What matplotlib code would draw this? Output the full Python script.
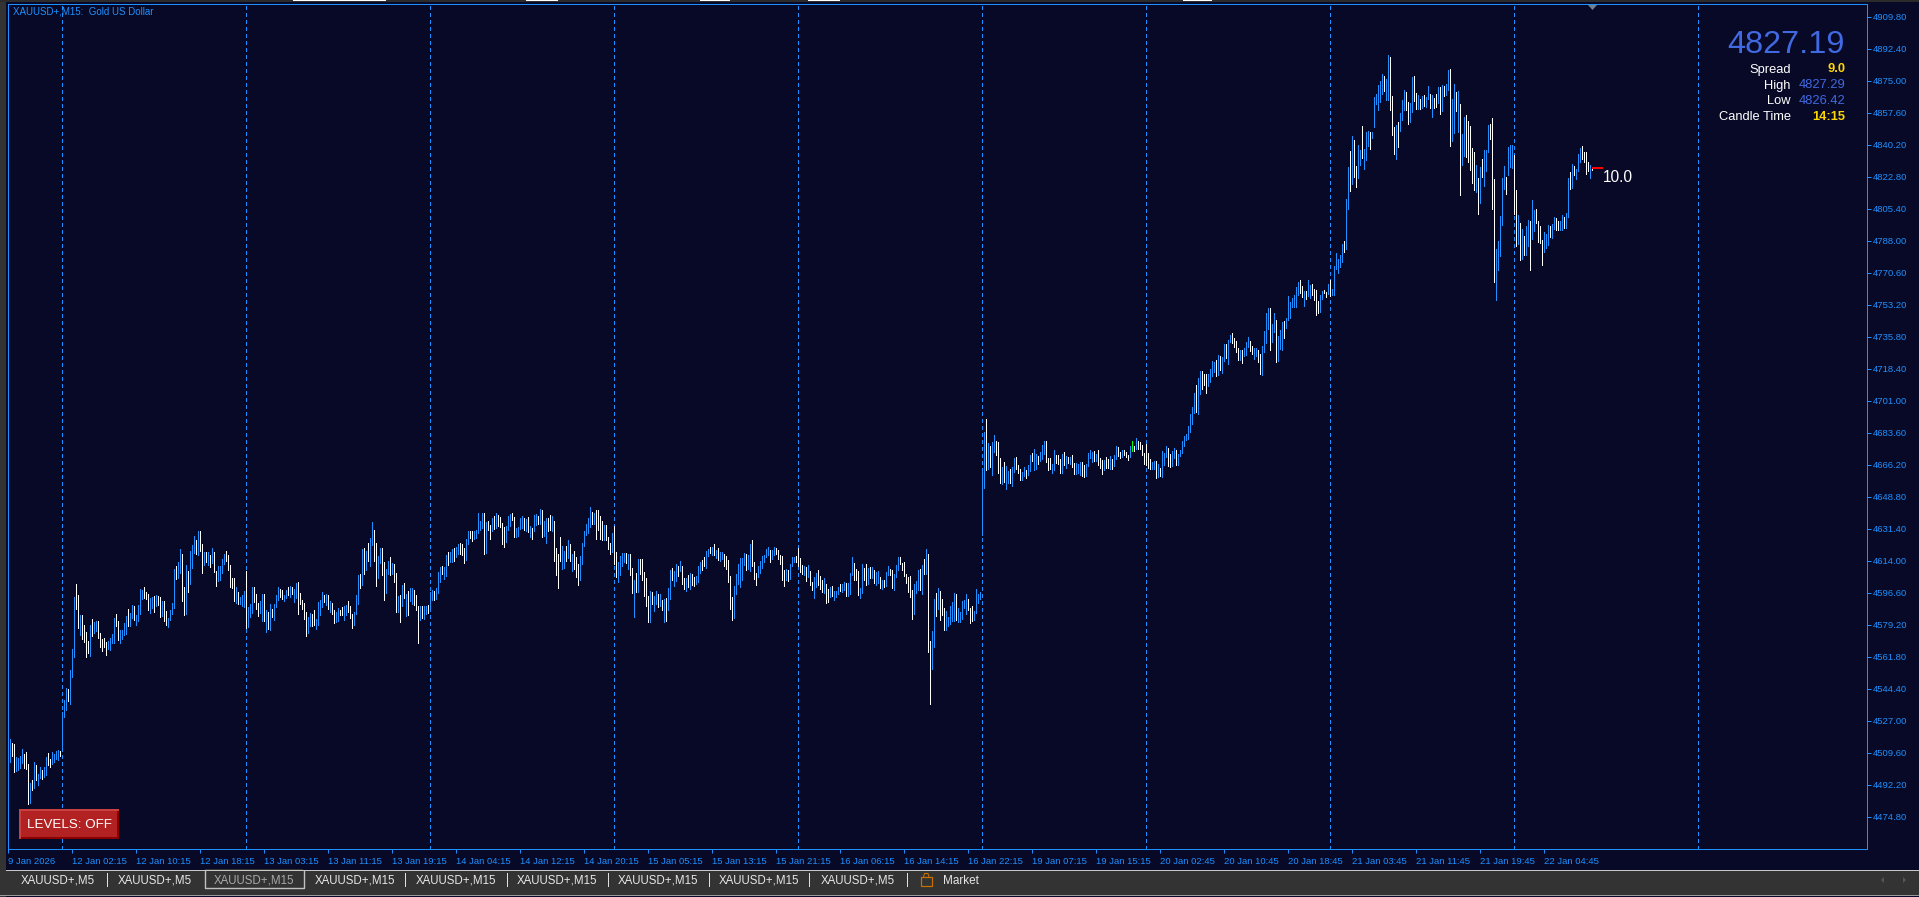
#!/usr/bin/env python3
"""XAUUSD+ M15 chart, MetaTrader look"""

import numpy as np
import matplotlib
matplotlib.use("Agg")
import matplotlib.pyplot as plt
from matplotlib.patches import Rectangle, Polygon

W, H = 1919, 897
NAVY = "#070926"
BLUE = "#1e90ff"
GREY = "#333333"
ROYAL = "#4169e1"
GOLD = "#ffd700"

plt.rcParams["font.family"] = ["Liberation Sans", "DejaVu Sans"]

# one entry per M15 bar
bar_highs = [
    # 9 Jan - 12 Jan
    4517.0,4514.9,4514.3,4507.3,4506.7,4507.8,4511.6,4508.9,4510.0,4503.4,
    4493.1,4494.7,4504.5,4502.9,4498.0,4501.8,4500.2,4501.8,4507.3,4509.4,
    4506.2,4510.0,4508.9,4510.5,4511.1,4510.5,4531.7,4538.2,4544.8,4544.2,
    4554.6,4566.0,4594.3,4601.3,4595.3,4584.5,4584.5,4579.0,4575.2,4570.3,
    4579.0,4582.3,4580.7,4581.2,4581.2,4574.7,4571.4,4572.0,4569.8,4570.3,
    4572.0,4574.1,4582.8,4585.0,4581.2,4576.3,4576.3,4580.1,4583.9,4587.7,
    4585.6,4589.9,4589.4,4584.5,4589.9,4598.6,4598.1,4599.7,4597.0,4595.9,
    4593.7,4594.3,4594.8,4595.3,4594.8,4594.3,4592.1,4592.1,4586.6,4582.8,
    4587.2,4591.0,4609.5,4611.1,4613.3,4620.4,4617.6,4599.7,4611.7,4608.4,
    4619.3,4622.5,4627.4,4625.2,4630.1,4630.1,4623.1,4618.7,4618.7,4618.7,
    4617.1,4620.9,4618.7,4608.4,4611.1,4611.1,4614.9,4617.6,4619.3,4617.1,
    4611.7,4604.6,4604.6,4599.7,4597.0,4594.3,4595.3,4597.5,4608.4,4588.8,
    4590.4,4599.7,4599.7,4595.9,4591.0,4592.1,4595.9,4595.9,4587.2,4586.1,
    4590.4,4587.7,4590.4,4595.3,4599.7,4598.6,4598.1,4595.3,4598.1,4599.7,
    4600.2,4599.7,4598.6,4601.9,4602.4,4596.4,4592.6,4591.0,4586.1,4583.4,
    4585.6,4585.0,4587.2,4582.3,4591.5,4592.6,4597.0,4595.3,4595.9,4595.3,
    4592.1,4591.0,4587.2,4586.1,4588.3,4587.2,4588.8,4589.4,4589.9,4592.1,
    4589.4,4585.0,4586.1,4595.3,4606.2,4606.8,4620.4,4620.9,4619.3,4623.6,
    4626.3,4635.0,4630.7,4623.6,4616.6,4620.9,4620.9,4613.3,4609.5,4613.8,
    4616.0,4612.7,4612.2,4607.3,4594.8,
    # 13 Jan - 14 Jan
    4595.3,4600.7,4601.8,4595.8,4597.5,4599.1,4599.1,4598.0,4595.3,4589.3,
    4589.3,4589.3,4589.3,4589.3,4589.9,4596.9,4598.0,4597.5,4599.1,4607.8,
    4610.5,4611.1,4610.5,4617.1,4618.7,4618.7,4620.3,4620.9,4621.4,4623.0,
    4623.6,4623.0,4620.9,4625.8,4630.1,4630.1,4630.1,4630.1,4630.6,4639.9,
    4635.5,4639.9,4639.9,4635.0,4635.5,4633.4,4637.2,4638.3,4639.9,4638.8,
    4637.7,4634.5,4632.3,4632.8,4638.3,4639.3,4639.9,4637.7,4631.7,4632.3,
    4637.2,4638.3,4637.2,4636.6,4637.7,4632.8,4631.7,4638.8,4639.3,4638.3,
    4642.1,4641.5,4635.5,4637.2,4637.2,4638.8,4638.3,4635.5,4620.9,4617.6,
    4626.8,4621.9,4619.2,4621.9,4625.2,4623.0,4617.6,4619.2,4616.0,4612.2,
    4616.5,4623.6,4630.1,4633.9,4637.2,4643.2,4640.4,4639.9,4641.5,4641.5,
    4638.3,4635.5,4633.4,4633.4,4626.8,4623.6,4629.0,4632.8,4618.7,4613.2,
    4616.5,4618.1,4618.1,4618.1,4617.6,4617.6,4610.0,4603.5,4607.3,4614.9,
    4614.9,4614.9,4607.8,4604.5,4594.8,4597.5,4596.9,4594.8,4597.5,4595.8,
    # 14 Jan - 16 Jan
    4595.8,4592.6,4593.1,4593.7,4599.1,4608.9,4610.0,4608.4,4612.2,4611.1,
    4613.8,4611.1,4604.5,4604.5,4606.2,4607.3,4606.7,4605.1,4605.6,4611.1,
    4613.2,4614.3,4616.0,4619.2,4620.3,4621.4,4621.4,4623.0,4619.8,4620.9,
    4618.7,4618.7,4617.6,4616.5,4614.3,4605.6,4594.2,4600.2,4606.7,4612.2,
    4615.4,4615.4,4618.1,4617.6,4617.1,4623.0,4625.2,4613.2,4607.3,4611.1,
    4613.8,4616.5,4617.1,4620.3,4621.4,4619.8,4619.8,4621.4,4620.9,4619.8,
    4617.1,4616.5,4608.9,4609.4,4608.9,4612.2,4616.0,4616.0,4616.5,4620.9,
    4615.4,4611.6,4611.1,4610.5,4611.6,4608.4,4602.4,4605.1,4607.3,4608.9,
    4605.6,4603.5,4604.5,4601.3,4598.6,4599.7,4600.2,4597.5,4597.5,4599.7,
    4601.3,4601.3,4602.4,4601.8,4601.8,4607.3,4616.0,4612.7,4609.4,4608.4,
    4599.1,4612.2,4610.0,4612.2,4610.0,4610.5,4610.5,4608.9,4607.8,4608.4,
    4605.1,4603.5,4603.5,4607.8,4611.1,4609.4,4608.9,4606.7,4611.6,4616.0,
    4616.0,4612.7,4613.2,4606.7,4605.1,4605.6,4598.0,4601.3,4602.9,4608.9,
    # 16 Jan - 20 Jan
    4609.5,4611.7,4614.9,4620.4,4617.7,4570.4,4575.8,4593.2,4596.5,4599.2,
    4597.5,4593.2,4588.3,4586.7,4583.4,4589.4,4591.6,4596.5,4595.9,4588.3,
    4586.1,4592.1,4592.6,4595.9,4593.2,4588.3,4589.4,4586.7,4598.6,4595.9,
    4597.0,4662.8,4684.0,4691.1,4678.0,4676.4,4678.6,4682.4,4679.1,4678.6,
    4669.9,4665.0,4667.7,4665.5,4662.8,4663.9,4665.0,4669.9,4670.4,4666.1,
    4663.9,4662.2,4665.0,4663.3,4666.1,4671.5,4672.6,4674.8,4672.0,4670.9,
    4673.1,4676.9,4679.1,4679.1,4669.9,4669.9,4666.6,4674.2,4671.5,4671.5,
    4669.3,4672.0,4673.1,4670.9,4670.4,4670.4,4671.5,4667.1,4667.1,4666.6,
    4667.7,4667.7,4666.1,4666.6,4672.6,4674.2,4673.1,4673.7,4672.0,4674.2,
    4669.9,4668.8,4668.8,4670.4,4669.3,4670.9,4669.3,4671.5,4676.4,4675.8,
    4673.1,4674.2,4674.2,4673.1,4671.5,4676.4,4679.1,4676.4,4680.7,4679.1,
    4678.6,4676.9,4672.6,4677.5,4672.6,4669.3,4667.7,4668.2,4668.2,4666.6,
    4664.4,4673.7,4672.6,4676.4,4675.3,4672.0,4673.7,4675.3,4674.2,4672.0,
    4674.2,4679.1,4681.8,4682.9,4687.3,4693.8,4697.6,4705.0,4709.6,4713.4,
    # 20 Jan
    4717.1,4717.1,4715.5,4715.5,4715.5,4718.2,4722.6,4722.0,4723.1,4725.8,
    4725.3,4724.7,4731.8,4731.8,4734.0,4736.7,4737.8,4735.1,4733.4,4729.6,
    4728.5,4728.5,4729.6,4732.9,4735.6,4733.4,4730.7,4729.6,4729.6,4728.5,
    4726.4,4730.7,4738.9,4748.7,4751.4,4751.4,4742.7,4748.7,4744.9,4736.2,
    4739.4,4743.8,4744.3,4745.9,4757.9,4754.6,4756.8,4758.5,4762.8,4765.5,
    4766.6,4763.3,4760.6,4760.6,4766.6,4763.9,4764.4,4761.7,4761.2,4755.2,
    4758.5,4760.6,4761.2,4760.1,4764.4,
    # 20 Jan - 22 Jan
    4766.6,4761.7,4774.2,4781.3,4778.0,4780.2,4786.2,4787.8,4810.6,4828.0,
    4836.7,4844.9,4842.7,4828.6,4840.0,4837.3,4850.3,4837.8,4847.1,4847.6,
    4847.1,4847.1,4866.1,4867.7,4872.6,4874.8,4878.6,4877.5,4875.9,4888.9,
    4887.9,4866.6,4849.8,4850.9,4852.5,4857.4,4864.5,4869.9,4868.8,4863.4,
    4862.8,4877.0,4877.5,4868.3,4867.2,4865.0,4866.6,4867.2,4866.1,4872.1,
    4867.7,4867.2,4865.6,4867.7,4871.5,4871.5,4872.6,4872.1,4873.2,4880.8,
    4881.3,4865.0,4873.2,4868.8,4869.4,4862.3,4846.0,4855.2,4856.3,4853.1,
    4850.3,4838.4,4836.2,4829.1,4822.1,4828.0,4832.4,4837.3,4837.3,4850.9,
    4851.4,4854.7,4821.5,4783.5,4787.8,4801.4,4822.1,4828.6,4822.6,4838.9,
    4840.0,4840.0,4834.6,4815.5,4801.9,4797.6,4794.3,4790.5,4796.0,4799.2,
    4798.7,4810.1,4804.7,4805.2,4798.7,4796.0,4788.3,4792.7,4791.6,4796.5,
    4796.0,4797.1,4800.9,4800.3,4798.7,4798.7,4801.9,4800.9,4803.0,4822.1,
    4825.3,4829.7,4828.6,4827.0,4835.1,4838.4,4839.5,4836.2,4836.2,4830.8,
    4829.1,4827.5,
]

bar_lows = [
    4504.5,4507.8,4499.1,4499.6,4500.2,4501.3,4504.0,4501.3,4500.7,4481.7,
    4482.2,4489.3,4490.4,4494.7,4492.0,4495.8,4495.3,4496.4,4497.5,4502.9,
    4501.8,4503.4,4504.5,4506.2,4505.6,4507.8,4510.5,4529.0,4532.8,4537.7,
    4536.1,4550.8,4561.6,4587.7,4577.4,4573.6,4571.4,4569.8,4561.6,4563.8,
    4562.2,4573.1,4574.7,4575.8,4572.0,4567.1,4564.9,4567.1,4562.7,4566.0,
    4565.4,4569.2,4569.2,4578.5,4570.9,4569.2,4571.4,4573.6,4574.1,4578.5,
    4578.5,4582.8,4581.7,4579.0,4581.2,4585.0,4593.2,4593.7,4593.2,4587.2,
    4585.6,4588.3,4586.1,4589.4,4589.9,4583.4,4583.9,4581.2,4579.0,4577.9,
    4581.7,4585.0,4588.3,4604.0,4604.6,4607.3,4592.1,4584.5,4585.0,4597.0,
    4601.3,4610.0,4618.2,4617.6,4617.1,4619.3,4607.3,4611.7,4613.3,4611.7,
    4610.6,4612.7,4607.8,4600.2,4603.0,4603.5,4607.3,4612.2,4613.8,4608.9,
    4599.7,4599.1,4592.1,4591.0,4590.4,4590.4,4589.4,4588.8,4577.4,4577.9,
    4583.4,4585.6,4591.5,4587.7,4583.9,4585.6,4581.2,4581.2,4575.2,4576.9,
    4576.3,4583.4,4581.7,4588.8,4592.6,4594.3,4593.2,4592.1,4593.7,4595.3,
    4594.3,4595.9,4591.5,4593.7,4585.0,4590.4,4587.7,4582.3,4573.1,4574.7,
    4578.5,4578.5,4579.0,4576.9,4579.0,4584.5,4588.8,4591.5,4589.9,4587.7,
    4586.1,4585.0,4580.1,4580.7,4581.2,4584.5,4584.5,4581.7,4584.5,4586.1,
    4582.8,4577.4,4579.0,4585.0,4590.4,4599.1,4600.8,4606.8,4608.9,4613.8,
    4611.1,4622.5,4613.8,4600.2,4604.6,4612.7,4606.2,4592.6,4596.4,4606.8,
    4606.2,4606.8,4602.4,4586.1,4586.1,
    4580.6,4589.3,4593.7,4583.9,4584.4,4592.0,4590.4,4589.9,4587.1,4569.2,
    4581.7,4582.8,4582.3,4585.0,4585.5,4587.7,4592.6,4592.6,4593.1,4596.4,
    4602.4,4606.7,4604.0,4605.6,4611.6,4613.2,4613.2,4613.8,4616.0,4617.6,
    4617.6,4617.1,4612.7,4614.3,4623.0,4626.3,4624.7,4625.8,4626.3,4629.0,
    4630.6,4631.7,4617.6,4618.1,4630.6,4625.8,4630.1,4631.2,4631.7,4632.8,
    4632.3,4623.0,4621.4,4624.1,4630.6,4632.8,4636.1,4626.8,4626.8,4627.4,
    4631.2,4631.7,4630.6,4630.1,4629.6,4626.8,4625.8,4630.1,4633.4,4633.9,
    4633.9,4626.8,4627.4,4623.6,4630.1,4630.6,4630.1,4613.8,4606.2,4599.1,
    4613.8,4609.4,4610.0,4613.8,4615.4,4613.8,4608.4,4609.4,4605.1,4600.7,
    4603.5,4612.2,4621.9,4627.9,4629.0,4632.3,4633.9,4633.9,4625.8,4630.6,
    4625.8,4625.2,4625.2,4625.2,4620.3,4617.6,4618.7,4612.2,4605.1,4602.4,
    4606.2,4611.1,4613.2,4612.7,4609.4,4606.2,4596.4,4583.3,4596.9,4596.9,
    4606.7,4603.5,4594.8,4589.3,4580.6,4580.6,4590.4,4586.6,4590.4,4588.8,
    4589.3,4587.1,4580.6,4581.2,4587.1,4593.1,4603.5,4600.2,4602.9,4605.6,
    4608.4,4601.3,4598.6,4597.5,4599.7,4598.6,4600.7,4600.2,4601.3,4602.4,
    4607.3,4608.9,4611.1,4610.0,4616.5,4618.1,4617.1,4617.1,4615.4,4614.3,
    4613.8,4614.9,4611.1,4609.4,4602.4,4587.7,4581.7,4582.8,4595.8,4601.3,
    4599.7,4603.5,4611.6,4608.9,4609.4,4608.4,4611.1,4604.0,4600.7,4605.1,
    4607.3,4610.0,4613.2,4616.0,4617.1,4613.2,4614.9,4617.1,4617.6,4614.9,
    4612.2,4603.5,4600.2,4603.5,4602.9,4604.0,4611.1,4613.2,4613.2,4611.1,
    4607.8,4606.7,4606.2,4602.9,4605.1,4600.7,4598.0,4593.7,4599.7,4600.7,
    4598.6,4596.9,4596.4,4591.0,4591.5,4594.2,4594.8,4592.6,4594.2,4595.8,
    4597.5,4596.9,4598.0,4594.8,4594.8,4595.8,4606.2,4603.5,4603.5,4595.3,
    4593.7,4596.4,4603.5,4600.7,4601.3,4604.5,4604.5,4601.8,4600.7,4601.8,
    4599.1,4598.6,4599.7,4600.2,4606.2,4606.2,4599.1,4598.0,4605.1,4608.9,
    4612.2,4608.9,4605.6,4601.8,4596.9,4594.2,4582.3,4585.0,4596.4,4598.0,
    4598.1,4595.9,4606.8,4606.8,4564.4,4536.1,4555.1,4567.1,4583.9,4587.8,
    4581.8,4584.5,4576.3,4576.3,4578.5,4579.6,4581.2,4581.2,4581.8,4580.7,
    4580.7,4582.3,4588.3,4585.0,4587.2,4580.1,4581.2,4581.8,4585.6,4591.0,
    4593.2,4628.0,4653.5,4663.3,4663.9,4665.0,4660.6,4673.1,4671.5,4661.7,
    4656.3,4655.7,4656.8,4653.0,4656.3,4656.3,4654.6,4662.2,4663.9,4661.7,
    4657.9,4657.9,4660.1,4659.0,4660.6,4662.8,4668.2,4663.3,4663.9,4666.6,
    4668.2,4669.3,4672.0,4667.7,4663.3,4663.9,4661.7,4663.3,4667.1,4666.6,
    4661.7,4661.7,4666.1,4664.4,4667.1,4666.6,4665.0,4661.2,4661.2,4661.7,
    4660.6,4660.1,4659.5,4660.1,4665.5,4669.9,4667.7,4668.2,4668.2,4666.1,
    4664.4,4661.2,4663.3,4664.4,4664.4,4663.9,4663.9,4665.5,4669.3,4670.9,
    4669.9,4670.4,4671.5,4670.4,4668.8,4670.4,4673.7,4673.7,4674.8,4674.8,
    4674.8,4671.5,4666.6,4666.1,4664.4,4663.9,4663.9,4663.9,4659.0,4659.5,
    4660.1,4659.5,4666.1,4670.4,4665.5,4665.0,4665.5,4669.9,4666.1,4666.1,
    4670.9,4672.6,4676.4,4679.6,4680.2,4684.0,4688.3,4694.3,4694.9,4693.8,
    4704.6,4707.3,4709.5,4705.2,4709.0,4711.1,4714.4,4716.6,4714.4,4715.0,
    4717.7,4716.0,4722.6,4724.2,4720.9,4732.9,4732.4,4730.2,4727.5,4723.1,
    4723.1,4721.5,4725.3,4725.8,4730.2,4728.0,4726.4,4723.7,4725.3,4722.0,
    4715.5,4715.0,4727.5,4732.4,4740.0,4728.5,4732.9,4738.3,4722.0,4722.6,
    4729.1,4728.5,4735.1,4740.5,4744.9,4745.9,4751.9,4751.9,4751.9,4758.5,
    4759.5,4757.4,4752.5,4756.3,4757.9,4756.8,4758.5,4755.7,4747.6,4748.7,
    4749.2,4756.3,4759.5,4757.4,4759.0,
    4757.9,4758.4,4758.4,4772.6,4770.4,4773.7,4776.4,4781.8,4783.5,4805.2,
    4815.0,4818.8,4822.6,4817.2,4822.1,4829.1,4832.9,4827.0,4831.8,4839.5,
    4837.8,4843.8,4849.8,4862.3,4859.0,4863.4,4867.7,4869.4,4864.5,4864.5,
    4859.0,4845.4,4835.1,4832.4,4838.9,4847.6,4853.6,4859.0,4859.0,4851.4,
    4852.5,4857.9,4863.9,4859.6,4859.6,4859.6,4860.1,4861.2,4860.7,4865.0,
    4860.1,4855.2,4860.1,4860.7,4862.8,4856.9,4858.5,4866.6,4867.2,4869.9,
    4839.5,4842.2,4846.5,4858.5,4847.1,4812.8,4829.1,4834.0,4833.5,4830.8,
    4826.4,4819.3,4815.5,4814.4,4802.5,4808.5,4822.6,4817.7,4825.9,4836.2,
    4843.3,4805.2,4765.5,4755.7,4772.0,4779.6,4796.5,4816.1,4813.4,4823.7,
    4828.0,4827.5,4802.5,4785.1,4786.2,4777.5,4778.0,4780.2,4780.2,4785.1,
    4772.0,4788.9,4793.2,4797.6,4787.3,4786.7,4774.8,4781.8,4784.0,4785.6,
    4790.0,4789.4,4794.3,4793.8,4793.8,4793.8,4793.8,4794.9,4794.9,4800.9,
    4816.1,4816.6,4823.7,4821.5,4825.9,4830.8,4832.4,4830.8,4824.2,4825.9,
    4822.1,4826.4,
]

# u = blue bar, d = white bar, n = the one green bar
bar_dirs = (
    "udduuuuddd" "ududuuduud" "duuuuduuud" "uuuddudddd" "uduudddddu"
    "uuudduuuud" "uuduuuuddd" "uududduddu" "uuuduuddud" "uuududdudu"
    "dudduuuudd" "ddduduuudu" "uuddduudud" "uduuudduud" "uduudddddu"
    "udduuuudud" "udduudduud" "dduuududud" "uudduudduu" "duddu"
    "dududuuddd" "uduuduuduu" "uduuduuduu" "ddduudduuu" "uududdudud"
    "ddduuudduu" "uudududuud" "uduudduddd" "duudududdd" "uuuuuududd"
    "ddudddu" "ddu" "uuududdudu" "ddddduduud"
    "ududuuduud" "uddududduu" "udduududud" "uuddddduuu" "uuuduudddu"
    "uuuuuduudd" "ddduduuudd" "ddududduud" "ddudduduuu" "duuduuuddd"
    "uuddududuu" "duduudduuu" "ddddddduuu"
    "dududduudu" "ddduuuuudu" "uuuuddduuu" "uuududuudd" "duduuduudd"
    "duuduuduud" "uuuddduudd" "dudududduu" "udduuuudud" "ddudduduud"
    "dudddundud" "dddddduudu" "duuudduudu" "uuuuuuuudu"
    "uddduuuudu" "duuduudddd" "uduuudduud" "duuuuduudu" "uuduuuuuuu"
    "dduduudddd" "uuddu"
    "duuuuuuduu" "dudduuduuu" "duuuuuuduu" "ddduduuudd" "uuddududuu"
    "duddududuu" "duududuudd" "dddududuuu" "ddduuuuudu" "uuddududuu"
    "duudddduuu" "duudduuduu" "duduuudddd" "ud"
)

price_ticks = [
    4909.80, 4892.40, 4875.00, 4857.60, 4840.20, 4822.80, 4805.40,
    4788.00, 4770.60, 4753.20, 4735.80, 4718.40, 4701.00, 4683.60,
    4666.20, 4648.80, 4631.40, 4614.00, 4596.60, 4579.20, 4561.80,
    4544.40, 4527.00, 4509.60, 4492.20, 4474.80,
]
time_tick_bars = [-1] + list(range(31, 31 + 32 * 24, 32))
time_labels = [
    "9 Jan 2026", "12 Jan 02:15", "12 Jan 10:15", "12 Jan 18:15",
    "13 Jan 03:15", "13 Jan 11:15", "13 Jan 19:15", "14 Jan 04:15",
    "14 Jan 12:15", "14 Jan 20:15", "15 Jan 05:15", "15 Jan 13:15",
    "15 Jan 21:15", "16 Jan 06:15", "16 Jan 14:15", "16 Jan 22:15",
    "19 Jan 07:15", "19 Jan 15:15", "20 Jan 02:45", "20 Jan 10:45",
    "20 Jan 18:45", "21 Jan 03:45", "21 Jan 11:45", "21 Jan 19:45",
    "22 Jan 04:45",
]
period_bars = [26, 118, 210, 302, 394, 486, 568, 660, 752, 844]
tab_labels = [
    "XAUUSD+,M5", "XAUUSD+,M5", "XAUUSD+,M15", "XAUUSD+,M15", "XAUUSD+,M15",
    "XAUUSD+,M15", "XAUUSD+,M15", "XAUUSD+,M15", "XAUUSD+,M5",
]
last_price = 4827.5

# axes box in picture pixels
LEFT, RIGHT, TOP, BOTTOM = 8.3, 1866.7, 4.4, 849.0
PX = 0.72  # one pixel in points at dpi 100

highs = np.array(bar_highs)
lows = np.array(bar_lows)
bars = np.arange(len(highs))
if not len(highs) == len(lows) == len(bar_dirs):
    raise ValueError(f"{len(highs)} {len(lows)} {len(bar_dirs)}")

fig = plt.figure(figsize=(W / 100, H / 100), dpi=100, facecolor=NAVY)

ax = fig.add_axes([LEFT / W, 1 - BOTTOM / H, (RIGHT - LEFT) / W, (BOTTOM - TOP) / H])
ax.set_facecolor(NAVY)
# 2 px per bar, 32 px per 17.4 price units
ax.set_xlim((LEFT - 10.33) / 2, (RIGHT - 10.33) / 2)
ax.set_ylim(4909.8 - (BOTTOM - 16.7) * 17.4 / 32, 4909.8 + (16.7 - TOP) * 17.4 / 32)

for b in period_bars:
    ax.axvline(b, color=BLUE, lw=PX, linestyle=(0, (3, 3)), antialiased=False, zorder=1)

colors = {"u": BLUE, "d": "#ffffff", "n": "#00ff00"}
ax.vlines(bars, lows, highs, colors=[colors[d] for d in bar_dirs], lw=PX,
          antialiased=False, zorder=2)

# last price marker
ax.hlines(last_price, bars[-1], bars[-1] + 5.5, colors="#ff0000", lw=2 * PX, zorder=3)

for side in ax.spines.values():
    side.set_color(BLUE)
    side.set_linewidth(PX)

ax.yaxis.tick_right()
ax.set_yticks(price_ticks)
ax.set_yticklabels([f"{p:.2f}" for p in price_ticks])
ax.set_xticks(time_tick_bars)
ax.set_xticklabels(time_labels, ha="left")
ax.tick_params(axis="both", colors=BLUE, labelcolor=BLUE, length=3, width=PX,
               labelsize=6.8, pad=1.5)
ax.tick_params(axis="x", pad=3)

# everything that is window chrome goes on a pixel overlay
ui = fig.add_axes([0, 0, 1, 1], facecolor="none")
ui.set_xlim(0, W)
ui.set_ylim(H, 0)
ui.axis("off")


def box(x0, y0, x1, y1, color, **kw):
    ui.add_patch(Rectangle((x0, y0), x1 - x0, y1 - y0, facecolor=color, edgecolor="none", **kw))


# outer window strips
box(0, 0, 6, H, GREY)
box(0, 0, W, 2.5, "#2b2b2b")
for x0, x1 in [(293, 386), (526, 558), (700, 730), (808, 840), (1183, 1212)]:
    box(x0, 0, x1, 1, "#ffffff")

ui.text(12.6, 11.7, "XAUUSD+,M15:  Gold US Dollar", color=BLUE, fontsize=7.05,
        ha="left", va="center")

# drop-down mark on the top border
ui.add_patch(Polygon([(1588, 5), (1597, 5), (1592.5, 10)], facecolor="#6f7f8f", edgecolor="none"))

# info panel
ui.text(1845, 45, "4827.19", color=ROYAL, fontsize=23.3, ha="right", va="center")
info_rows = [
    ("Spread", "9.0", GOLD, "bold", 69.5),
    ("High", "4827.29", ROYAL, "normal", 85.5),
    ("Low", "4826.42", ROYAL, "normal", 101.5),
    ("Candle Time", "14:15", GOLD, "bold", 117.5),
]
for name, value, col, weight, y in info_rows:
    ui.text(1790.7, y, name, color="#ffffff", fontsize=9.3, ha="right", va="center")
    ui.text(1845.7, y, value, color=col, fontsize=9.3, fontweight=weight, ha="right", va="center")

ui.text(1603, 178, "10.0", color="#ffffff", fontsize=11.2, ha="left", va="center")

# LEVELS button
box(19, 809, 119, 838.7, "#c84040")
box(21, 811, 119, 838.7, "#8b0000")
box(21, 811, 117, 836.7, "#b22222")
ui.text(69, 824.5, "LEVELS: OFF", color="#ffffff", fontsize=9.6, ha="center", va="center")

# tab strip
box(0, 870, W, 895.5, GREY)
ui.plot([6, W], [870.5, 870.5], color="#c8c8c8", lw=PX)
ui.plot([0, W], [895.5, 895.5], color="#9a9a9a", lw=PX)

tab_centers = [57.5, 155, 253.7, 354.5, 455.5, 556.5, 657.5, 758.5, 857.5]
for i, (label, cx) in enumerate(zip(tab_labels, tab_centers)):
    col = "#a8a8a8" if i == 2 else "#e6e6e6"
    ui.text(cx, 880.7, label, color=col, fontsize=8.3, ha="center", va="center")
for sx in [106.7, 405.3, 506.5, 607.7, 708.7, 809.3, 906.7]:
    ui.plot([sx, sx], [873.5, 886.5], color="#e0e0e0", lw=PX)

# active tab frame
ui.plot([204.5, 204.5, 303.5, 303.5], [871, 888, 888, 871], color="#c0c0c0", lw=1.4 * PX)
box(205, 869.5, 303, 871.5, GREY)

# Market tab with bag icon
ui.add_patch(Rectangle((921, 877), 10.5, 9.5, facecolor="none", edgecolor="#c87000", lw=1.2 * PX))
ui.plot([923.5, 924.5, 928, 929], [877, 873.5, 873.5, 877], color="#c87000", lw=PX)
ui.text(942.7, 880.7, "Market", color="#e6e6e6", fontsize=8.5, ha="left", va="center")

# scroll arrows
ui.add_patch(Polygon([(1884, 877), (1884, 883), (1881, 880)], facecolor="#555555", edgecolor="none"))
ui.add_patch(Polygon([(1903, 877), (1903, 883), (1906, 880)], facecolor="#555555", edgecolor="none"))

fig.savefig("out.png", dpi=100, facecolor=NAVY)
